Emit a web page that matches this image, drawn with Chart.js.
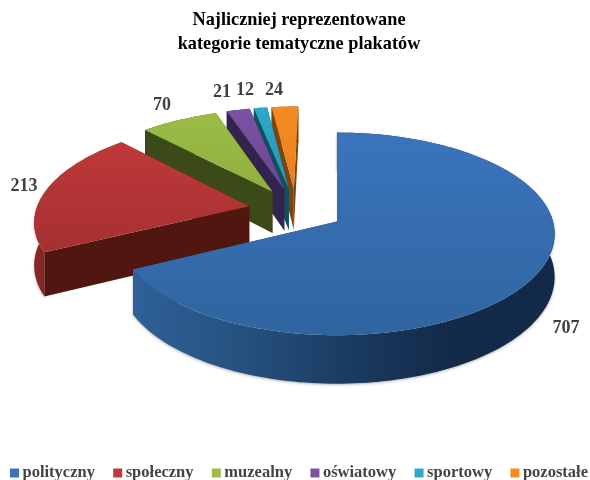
<!DOCTYPE html>
<html><head><meta charset="utf-8">
<style>html,body{margin:0;padding:0;background:#fff}canvas{display:block}</style>
<script src="https://cdn.jsdelivr.net/npm/chart.js@4"></script>
</head><body><canvas id="c" width="590" height="480"></canvas>
<script>
const categories = ['polityczny','społeczny','muzealny','oświatowy','sportowy','pozostałe'];
const counts = [707,213,70,21,12,24];
const topColors = ['#3a74bd','#c0393a','#9bbc45','#7b53a4','#2ea8c8','#f58b22'];
const topShade = ['#2f659f','#a53031','#8fb03f','#6b4691','#2596b3','#e87f1c'];
const wallColors = ['#2a5a94','#50160f','#3b4a17','#33234f','#12505f','#7a4510'];
const titleLines = ['Najliczniej reprezentowane','kategorie tematyczne plakatów'];
const view = {vx:337,x0:0.192,cy:210,rx:213,ry:97,persp:0.12,depth:42,explode:0.225};
const labelAnchors = [[566,328],[24,186],[162,105],[222,92],[245,90],[274,90]];
function project(X,Y,z){const w=1+view.persp*Y;return {x:view.vx+view.rx*(X-view.x0)/w,y:view.cy-view.ry*Y/w+z*view.depth/w};}
const pie3d={id:'pie3d',
 beforeDatasetsDraw(chart){
  const ctx=chart.ctx,arcs=chart.getDatasetMeta(0).data;
  const order=[5,4,3,2,1,0];
  for(const i of order){
   const a=arcs[i],s=a.startAngle,e=a.endAngle,mid=(s+e)/2;
   const ox=Math.cos(mid)*view.explode,oy=-Math.sin(mid)*view.explode;
   const P=(ang,r,z)=>project(ox+Math.cos(ang)*r,oy-Math.sin(ang)*r,z);
   const n=Math.max(4,Math.ceil((e-s)*40));
   const arcPts=[];for(let k=0;k<=n;k++)arcPts.push(s+(e-s)*k/n);
   const wall=wallColors[i],top=topColors[i];
   const path=pts=>{ctx.beginPath();pts.forEach((p,j)=>j?ctx.lineTo(p.x,p.y):ctx.moveTo(p.x,p.y));ctx.closePath();};
   const poly=(pts,fill)=>{path(pts);ctx.fillStyle=fill;ctx.fill();};
   const radials=()=>{
    poly([P(e,0,0),P(e,1,0),P(e,1,1),P(e,0,1)],wall);
    poly([P(s,0,0),P(s,1,0),P(s,1,1),P(s,0,1)],wall);
   };
   const xs=arcPts.map(t=>P(t,1,0).x);
   const x0=Math.min(...xs),x1=Math.max(...xs);
   const g=ctx.createLinearGradient(x0,0,x1,0);
   if(i===0){g.addColorStop(0,'#2e6199');g.addColorStop(.25,'#26527f');g.addColorStop(.5,'#1b3c63');g.addColorStop(.75,'#132a48');g.addColorStop(1,'#12294a');}
   else if(i===1){g.addColorStop(0,'#8a2626');g.addColorStop(1,'#6a1c1c');}
   else {g.addColorStop(0,wall);g.addColorStop(1,wall);}
   if(i===0)radials();
   ctx.save();
   if(i<=1){ctx.shadowColor='rgba(0,0,0,0.3)';ctx.shadowBlur=3;ctx.shadowOffsetY=1;}
   poly(arcPts.map(t=>P(t,1,0)).concat(arcPts.slice().reverse().map(t=>P(t,1,1))),g);
   ctx.restore();
   if(i>0)radials();
   const ys=arcPts.map(t=>P(t,1,0).y).concat(P(s,0,0).y);
   const tg=ctx.createLinearGradient(0,Math.min(...ys),0,Math.max(...ys));
   tg.addColorStop(0,top);tg.addColorStop(1,topShade[i]);
   poly([P(s,0,0)].concat(arcPts.map(t=>P(t,1,0))),tg);
  }
  return false;
 },
 afterDraw(chart){
  const ctx=chart.ctx,arcs=chart.getDatasetMeta(0).data;
  ctx.save();ctx.font='bold 18px "Liberation Serif"';ctx.fillStyle='#404040';ctx.textAlign='center';ctx.textBaseline='middle';
  arcs.forEach((a,i)=>ctx.fillText(String(counts[i]),labelAnchors[i][0],labelAnchors[i][1]));
  ctx.font='bold 16.5px "Liberation Serif"';ctx.textAlign='left';
  let x=10;
  const widths=categories.map(t=>ctx.measureText(t).width);
  const total=widths.reduce((p,q)=>p+q,0)+categories.length*12.5;
  const gap=(588-10-total)/(categories.length-1);
  categories.forEach((t,i)=>{
   ctx.fillStyle=topColors[i];ctx.fillRect(x,468.5,9,9);
   ctx.fillStyle='#444';ctx.fillText(t,x+12.5,472.5);
   x+=12.5+widths[i]+gap;
  });
  ctx.restore();
 }
};
new Chart(document.getElementById('c'),{type:'pie',plugins:[pie3d],
 data:{labels:categories,datasets:[{data:counts,backgroundColor:topColors,borderWidth:0}]},
 options:{responsive:false,animation:false,
  layout:{padding:{left:8,right:0,top:8,bottom:0}},
  plugins:{tooltip:{enabled:false},legend:{display:false},
   title:{display:true,text:titleLines,color:'#000',font:{family:'"Liberation Serif"',size:18.3,weight:'bold',lineHeight:1.31},padding:{top:0,bottom:0}}}}});
</script></body></html>
